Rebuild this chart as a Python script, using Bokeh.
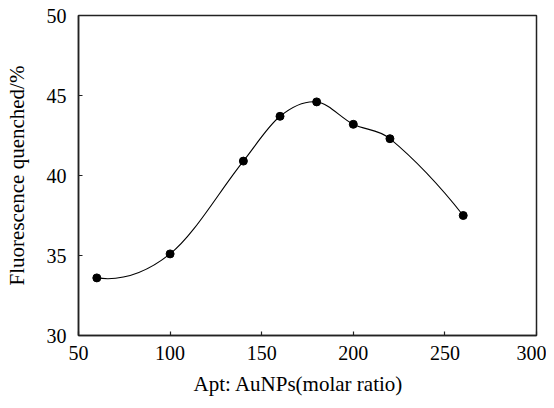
import numpy as np
from bokeh.plotting import figure
from bokeh.models import Range1d, FixedTicker, Title, ColumnDataSource
from bokeh.embed import file_html
from bokeh.resources import INLINE

# data
ratio = [60, 100, 140, 160, 180, 200, 220, 260]
quenched = [33.6, 35.1, 40.9, 43.7, 44.6, 43.2, 42.3, 37.5]
x_ticks = [50, 100, 150, 200, 250, 300]
y_ticks = [30, 35, 40, 45, 50]
x_title = "Apt: AuNPs(molar ratio)"
y_title = "Fluorescence quenched/%"

FONT = "Liberation Serif"
W, H = 546, 406

p = figure(width=W, height=H, output_backend="svg", toolbar_location=None,
           x_range=Range1d(50, 300), y_range=Range1d(30, 50),
           min_border_left=78, min_border_right=10, min_border_top=15, min_border_bottom=71)
p.grid.visible = False
p.background_fill_color = "white"
p.border_fill_color = "white"
p.outline_line_color = "#222222"
p.outline_line_width = 1.5

for ax in (p.xaxis[0], p.yaxis[0]):
    ax.axis_line_color = "#222222"
    ax.axis_line_width = 1.5
    ax.major_tick_in = 4
    ax.major_tick_out = 0
    ax.major_tick_line_color = "#222222"
    ax.major_tick_line_width = 1.2
    ax.minor_tick_line_color = None
    ax.major_label_text_font = FONT
    ax.major_label_text_font_size = "20px"
    ax.major_label_text_color = "black"
    ax.axis_label_text_font = FONT
    ax.axis_label_text_font_size = "21px"
    ax.axis_label_text_font_style = "normal"
    ax.axis_label_text_color = "black"

p.xaxis.ticker = FixedTicker(ticks=x_ticks)
p.yaxis.ticker = FixedTicker(ticks=y_ticks)
p.xaxis.major_label_standoff = 10
p.yaxis.major_label_standoff = 12
p.yaxis.axis_label = y_title
p.yaxis.axis_label_standoff = 15

# smooth curve: cubic Hermite segments through the data points
x = np.array(ratio, dtype=float)
y = np.array(quenched, dtype=float)
n = len(x)
m = np.zeros(n)
for i in range(1, n - 1):
    m[i] = (y[i + 1] - y[i - 1]) / (x[i + 1] - x[i - 1])
m[0] = 2 * (y[1] - y[0]) / (x[1] - x[0]) - m[1]
m[-1] = 2 * (y[-1] - y[-2]) / (x[-1] - x[-2]) - m[-2]
h = np.diff(x)
seg = ColumnDataSource(dict(
    x0=x[:-1], y0=y[:-1], x1=x[1:], y1=y[1:],
    cx0=x[:-1] + h / 3, cy0=y[:-1] + m[:-1] * h / 3,
    cx1=x[1:] - h / 3, cy1=y[1:] - m[1:] * h / 3,
))
p.bezier(x0="x0", y0="y0", x1="x1", y1="y1", cx0="cx0", cy0="cy0", cx1="cx1", cy1="cy1",
         source=seg, line_color="black", line_width=1.1)

p.scatter(ratio, quenched, size=8, marker="circle", fill_color="black", line_color="black")

p.add_layout(Title(text=x_title, align="left", offset=115, standoff=14,
                   text_font=FONT, text_font_size="21px", text_font_style="normal",
                   text_color="black"), "below")

open("out.html", "w").write(file_html(p, INLINE))
